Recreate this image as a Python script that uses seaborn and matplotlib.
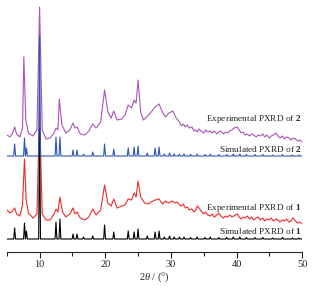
import numpy as np
import pandas as pd
import matplotlib
matplotlib.use("Agg")
import matplotlib.pyplot as plt
import seaborn as sns
from matplotlib.ticker import MultipleLocator

# simulated patterns: peak positions (2theta) and heights
sim1_pos = [6.2, 7.7, 8.0, 10.0, 12.5, 13.1, 15.1, 15.7, 16.7, 18.1, 19.9, 21.3,
            23.5, 24.4, 25.0, 26.4, 27.6, 28.2, 29.0, 29.8, 30.5, 31.3, 32.0, 33.0,
            34.0, 35.2, 36.0, 37.3, 38.5, 39.5, 40.5, 41.5, 42.8, 44.0, 45.5, 47.0,
            48.5, 49.5]
sim1_h = [11, 16, 8, 110, 17, 20, 5, 5, 2, 3, 14, 7,
          8, 7, 10, 3, 7, 8, 2, 3, 2, 2, 2, 1.5,
          2, 1.5, 2, 1.5, 1.5, 2, 2, 1.5, 1.5, 1.5, 1, 1.5,
          1, 1]
sim2_pos = sim1_pos
sim2_h = [12, 18, 8, 120, 19, 19, 6, 6, 2, 4, 12, 7,
          8, 9, 10, 3, 8, 9, 2, 3, 2, 2, 2, 1.5,
          2, 1.5, 2, 1.5, 1.5, 2, 2, 1.5, 1.5, 1.5, 1, 1.5,
          1, 1]

# experimental 1 (red)
exp1_x = [5.0, 5.5, 5.9, 6.2, 6.5, 7.0, 7.4, 7.7, 7.95, 8.3, 9.0, 9.6, 10.0, 10.4,
          11.0, 11.6, 12.2, 12.5, 12.8, 13.1, 13.5, 14.0, 14.6, 15.1, 15.4, 15.7,
          16.2, 16.9, 17.5, 18.1, 18.6, 19.3, 19.9, 20.4, 20.9, 21.3, 21.8, 22.5,
          23.0, 23.5, 24.0, 24.4, 24.7, 25.0, 25.4, 26.0, 26.5, 27.0, 27.6, 28.2,
          28.7, 29.2, 29.6, 30.2, 30.6,
          31.0, 31.3, 31.6, 31.9, 32.2, 32.5, 32.8, 33.2, 33.5, 33.8, 34.0, 34.3,
          34.6, 35.0, 35.3, 35.6, 36.0, 36.3, 36.6, 37.0, 37.3, 37.6, 38.0, 38.3,
          38.6, 39.0, 39.3, 39.6, 40.1, 40.4, 40.7, 41.0, 41.3, 41.6, 42.0, 42.3,
          42.6, 43.0, 43.3, 43.6, 44.0, 44.3, 44.6, 45.0, 45.3, 45.6, 46.0, 46.3,
          46.6, 47.0, 47.3, 47.6, 48.0, 48.3, 48.6, 49.0, 49.3, 49.6, 50.0]
exp1_y = [42, 39, 41, 44, 38, 36, 47, 93, 52, 39, 34, 38, 140, 38,
          32, 32, 38, 43, 40, 55, 40, 35, 38, 44, 38, 40,
          34, 32, 35, 43, 37, 42, 67, 49, 46, 53, 44, 46,
          47, 53, 52, 59, 55, 71, 55, 49, 48, 50, 52, 53,
          48, 51, 49, 51, 49,
          50, 47, 46, 48, 44, 45, 42, 43, 40, 42, 46, 44,
          41, 38, 40, 37, 36, 38, 35, 37, 39, 36, 34, 36,
          35, 37, 35, 36, 38, 35, 33, 35, 34, 36, 33, 35,
          32, 34, 35, 32, 34, 31, 33, 32, 34, 31, 33, 32,
          30, 32, 31, 33, 30, 31, 34, 31, 29, 30, 28]

# experimental 2 (purple)
exp2_x = [5.0, 5.5, 5.9, 6.2, 6.5, 7.0, 7.4, 7.6, 7.9, 8.3, 9.0, 9.6, 10.0, 10.4,
          11.0, 11.6, 12.2, 12.5, 12.8, 13.0, 13.4, 14.0, 14.6, 15.1, 15.4, 15.7,
          16.2, 16.9, 17.5, 18.1, 18.6, 19.3, 19.9, 20.4, 20.9, 21.3, 21.8, 22.5,
          23.0, 23.5, 24.0, 24.4, 24.7, 25.0, 25.4, 25.8, 26.3, 27.0, 27.6, 28.2,
          28.7, 29.2, 29.7, 30.3, 30.8,
          31.3, 31.6, 31.9, 32.2, 32.5, 32.8, 33.2, 33.5, 33.8, 34.0, 34.3,
          34.6, 35.0, 35.3, 35.6, 36.0, 36.3, 36.6, 37.0, 37.3, 37.6, 38.0, 38.3,
          38.6, 39.0, 39.3, 39.6, 40.1, 40.4, 40.7, 41.0, 41.3, 41.6, 42.0, 42.3,
          42.6, 43.0, 43.3, 43.6, 44.0, 44.3, 44.6, 45.0, 45.3, 45.6, 46.0, 46.3,
          46.6, 47.0, 47.3, 47.6, 48.0, 48.3, 48.6, 49.0, 49.3, 49.6, 50.0]
exp2_y = [117, 115, 119, 125, 118, 115, 124, 195, 132, 119, 116, 122, 245, 122,
          113, 114, 119, 124, 122, 153, 127, 119, 122, 129, 124, 125,
          118, 117, 121, 128, 124, 130, 162, 140, 134, 141, 132, 133,
          137, 147, 144, 152, 149, 172, 140, 132, 135, 140, 145, 148,
          140, 135, 139, 141, 134,
          130, 126, 128, 125, 127, 124, 125, 121, 122, 120, 123,
          121, 119, 122, 120, 121, 119, 121, 118, 120, 121, 118, 120,
          119, 121, 122, 124, 125, 122, 119, 120, 117, 118, 116, 118,
          117, 115, 117, 116, 118, 115, 117, 114, 116, 117, 119, 116,
          114, 116, 113, 115, 114, 112, 114, 113, 111, 112, 110]

labels = ["Experimental PXRD of $\\mathbf{2}$", "Simulated PXRD of $\\mathbf{2}$",
          "Experimental PXRD of $\\mathbf{1}$", "Simulated PXRD of $\\mathbf{1}$"]

sns.set_style("ticks")
plt.rcParams["font.family"] = ["Liberation Serif", "DejaVu Serif"]
plt.rcParams["mathtext.fontset"] = "custom"
plt.rcParams["mathtext.rm"] = "Liberation Serif"
plt.rcParams["mathtext.it"] = "Liberation Serif:italic"
plt.rcParams["mathtext.bf"] = "Liberation Serif:bold"


def sticks(pos, h, base, w=0.14):
    xs, ys = [5.0], [base]
    for p, v in zip(pos, h):
        xs += [p - w, p, p + w]
        ys += [base, base + v, base]
    xs.append(50.0)
    ys.append(base)
    return pd.DataFrame({"x": xs, "y": ys})


fig = plt.figure(figsize=(3.17, 2.88), dpi=100)
ax = fig.add_axes([0.0213, 0.125, 0.932, 0.875])

lw = 0.8
sns.lineplot(data=pd.DataFrame({"x": exp1_x, "y": exp1_y}), x="x", y="y",
             color="#f02a2a", lw=lw, sort=False, estimator=None, ax=ax)
sns.lineplot(data=sticks(sim1_pos, sim1_h, 13), x="x", y="y",
             color="black", lw=lw, sort=False, estimator=None, ax=ax)
sns.lineplot(data=pd.DataFrame({"x": exp2_x, "y": exp2_y}), x="x", y="y",
             color="#a855b5", lw=lw, sort=False, estimator=None, ax=ax)
sns.lineplot(data=sticks(sim2_pos, sim2_h, 96), x="x", y="y",
             color="#2e55b8", lw=lw, sort=False, estimator=None, ax=ax)

for lab, yy in zip(labels, [133, 103, 44, 21]):
    ax.text(49.9, yy, lab, ha="right", va="center", fontsize=6.7)

ax.set_xlim(5, 50)
ax.set_ylim(0, 252)
ax.xaxis.set_major_locator(MultipleLocator(10))
ax.xaxis.set_minor_locator(MultipleLocator(5))
ax.tick_params(axis="x", which="major", length=4, width=0.8, labelsize=7.5, pad=2)
ax.tick_params(axis="x", which="minor", length=3, width=0.8)
ax.set_yticks([])
ax.set_ylabel("")
ax.set_xlabel("2$\\theta$ / (°)", fontsize=7.5, labelpad=1)
for s in ["left", "right", "top"]:
    ax.spines[s].set_visible(False)
ax.spines["bottom"].set_linewidth(0.8)
ax.patch.set_alpha(0)

fig.savefig("out.png", dpi=100)
